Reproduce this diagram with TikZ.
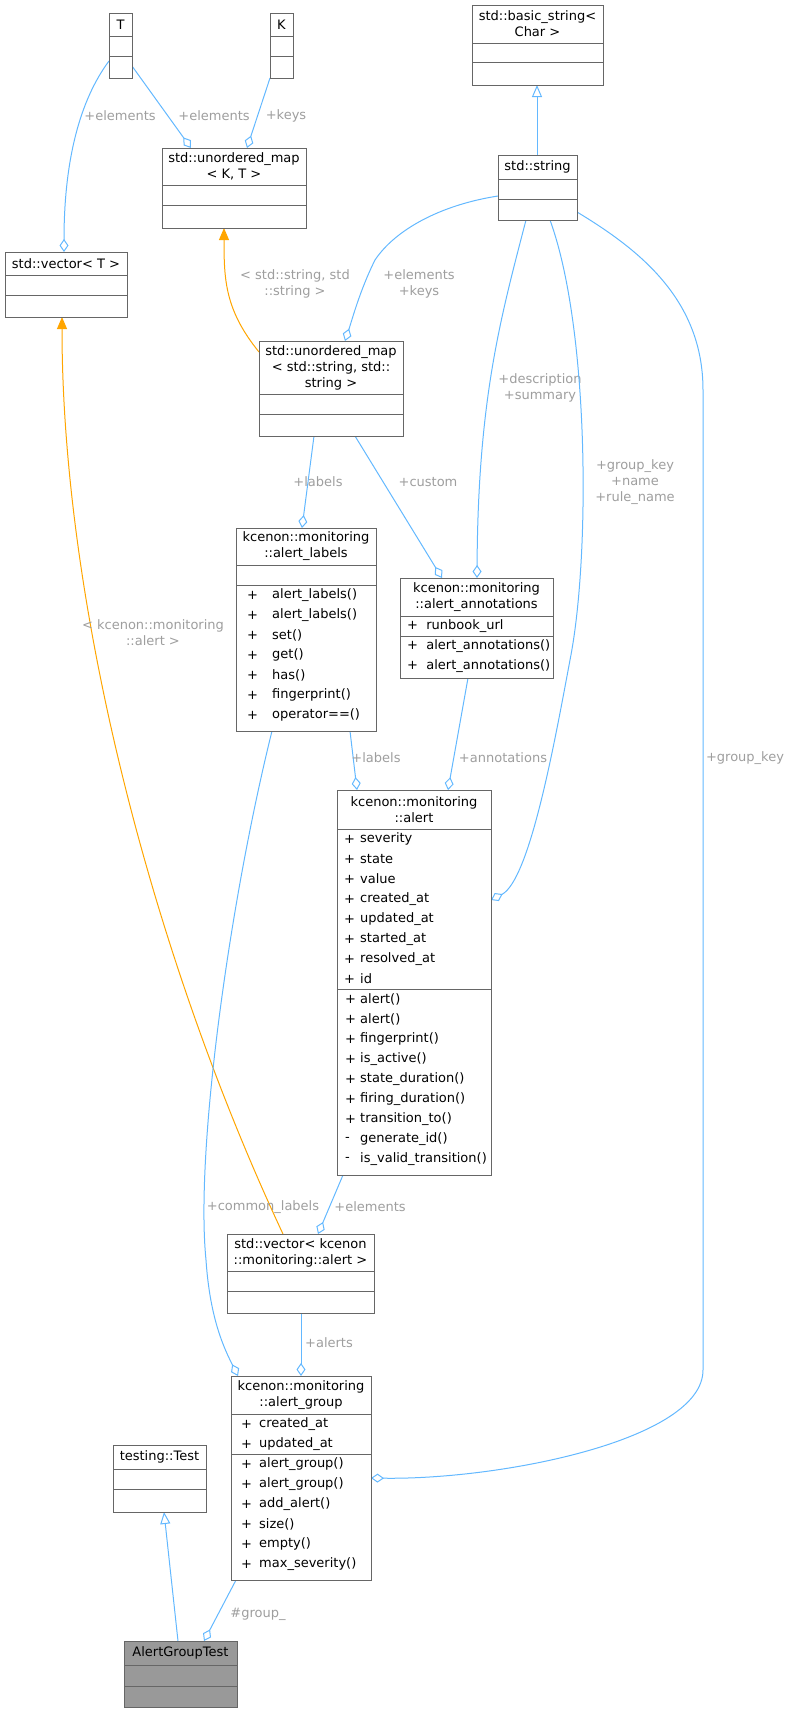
\documentclass[tikz,border=0pt]{standalone}
\usepackage{fontspec}
\setmainfont{DejaVu Sans}
\usetikzlibrary{arrows.meta}
\definecolor{edge}{HTML}{63B8FF}
\definecolor{inst}{HTML}{FFA500}
\definecolor{bord}{HTML}{666666}
\definecolor{lbl}{HTML}{9E9E9E}
\newcommand\cls[6]{%
  \node[cbox,fill=#6,minimum width={(#4-#2)*1pt},minimum height={(#5-#3)*1pt}] (#1) at ({(#2+#4)/2},{(#3+#5)/2}) {};}
\newcommand\dv[3]{\draw[bord,line width=1pt] (#1,#3) -- (#2,#3);}
\newcommand\mem[3]{\node[mtxt] at (#1,#2) {#3};}
\begin{document}
\begin{tikzpicture}[x=1pt,y=-1pt,
  cbox/.style={draw=bord,line width=1pt,inner sep=0pt,outer sep=0pt},
  htxt/.style={align=center,font=\fontsize{13}{16}\selectfont,inner sep=0pt},
  mtxt/.style={anchor=west,font=\fontsize{13}{16}\selectfont,inner sep=0pt},
  ltxt/.style={align=center,text=lbl,font=\fontsize{13}{16}\selectfont,inner sep=0pt},
  agg/.style={edge,line width=1pt,-{Diamond[open,length=13pt,width=9pt]}},
  inh/.style={edge,line width=1pt,-{Triangle[open,fill=white,length=12pt,width=10pt]}},
  tpl/.style={inst,line width=1pt,-{Triangle[length=12pt,width=10pt]}}]
\useasboundingbox (0,0) rectangle (791,1709);
% edges
\draw[agg] (109,61) .. controls (80,100) and (64,160) .. (64,252);
\node[ltxt] at (120,116) {+elements};
\draw[agg] (132,66) -- (191,148);
\node[ltxt] at (214,116) {+elements};
\draw[agg] (270,78) -- (247,148);
\node[ltxt] at (286,116) {+keys};
\draw[inh] (537,155) -- (537,85);
\draw[tpl] (259,352) .. controls (225,310) and (224,280) .. (224,228);
\node[ltxt] at (295,284) {< std::string, std\\::string >};
\draw[agg] (498,196) .. controls (440,205) and (395,230) .. (375,260) .. controls (360,290) and (352,320) .. (345,341);
\node[ltxt] at (419,284) {+elements\\+keys};
\draw[agg] (526,220) .. controls (500,320) and (478,400) .. (477,578);
\node[ltxt] at (540,388) {+description\\+summary};
\draw[agg] (550,220) .. controls (590,330) and (590,560) .. (570,660) .. controls (555,740) and (530,880) .. (491,900);
\node[ltxt] at (635,482) {+group\_key\\+name\\+rule\_name};
\draw[agg] (577,212) .. controls (640,250) and (703,300) .. (703,390) -- (703,1370) .. controls (703,1440) and (500,1480) .. (371,1478);
\node[ltxt] at (745,758) {+group\_key};
\draw[agg] (314,436) -- (302,528);
\node[ltxt] at (318,482) {+labels};
\draw[agg] (355,436) -- (442,578);
\node[ltxt] at (428,482) {+custom};
\draw[agg] (468,678) -- (448,790);
\node[ltxt] at (503,758) {+annotations};
\draw[agg] (350,731) -- (357,790);
\node[ltxt] at (376,758) {+labels};
\draw[tpl] (283,1234) .. controls (150,950) and (62,600) .. (62,317);
\node[ltxt] at (153,633) {< kcenon::monitoring\\::alert >};
\draw[agg] (343,1175) -- (318,1234);
\node[ltxt] at (370,1207) {+elements};
\draw[agg] (272,731) .. controls (230,900) and (195,1150) .. (206,1260) .. controls (210,1320) and (225,1350) .. (238,1376);
\node[ltxt] at (263,1207) {+common\_labels};
\draw[agg] (301,1313) -- (301,1376);
\node[ltxt] at (329,1343) {+alerts};
\draw[agg] (236,1580) -- (204,1641);
\node[ltxt] at (258,1614) {\#group\_};
\draw[inh] (178,1641) -- (164,1512);
% classes
\cls{T}{109}{13}{132}{78}{white}\dv{109}{132}{36}\dv{109}{132}{56}
\node[htxt] at (120.5,24.5) {T};
\cls{K}{270}{13}{293}{78}{white}\dv{270}{293}{36}\dv{270}{293}{56}
\node[htxt] at (281.5,24.5) {K};
\cls{bs}{472}{5}{603}{85}{white}\dv{472}{603}{43}\dv{472}{603}{62}
\node[htxt] at (537.5,24) {std::basic\_string<\\Char >};
\cls{umkt}{162}{148}{306}{228}{white}\dv{162}{306}{185}\dv{162}{306}{205}
\node[htxt] at (234,166.5) {std::unordered\_map\\< K, T >};
\cls{str}{498}{155}{577}{220}{white}\dv{498}{577}{179}\dv{498}{577}{199}
\node[htxt] at (537.5,167) {std::string};
\cls{vect}{5}{252}{127}{317}{white}\dv{5}{127}{275}\dv{5}{127}{295}
\node[htxt] at (66,263.5) {std::vector< T >};
\cls{umss}{259}{341}{403}{436}{white}\dv{259}{403}{394}\dv{259}{403}{414}
\node[htxt] at (331,367.5) {std::unordered\_map\\< std::string, std::\\string >};
\cls{labels}{236}{528}{376}{731}{white}\dv{236}{376}{565}\dv{236}{376}{585}
\node[htxt] at (306,546.5) {kcenon::monitoring\\::alert\_labels};
\foreach \n [count=\i from 0] in {alert\_labels(),alert\_labels(),set(),get(),has(),fingerprint(),operator==()}
  {\node[mtxt] at (247,595+20*\i) {+}; \node[mtxt] at (272,595+20*\i) {\n};}
\cls{ann}{400}{578}{553}{678}{white}\dv{400}{553}{616}\dv{400}{553}{636}
\node[htxt] at (476.5,597) {kcenon::monitoring\\::alert\_annotations};
\mem{407}{626}{+\ \ runbook\_url}
\mem{407}{646}{+\ \ alert\_annotations()}
\mem{407}{666}{+\ \ alert\_annotations()}
\cls{alert}{337}{790}{491}{1175}{white}\dv{337}{491}{829}\dv{337}{491}{989}
\node[htxt] at (414,809.5) {kcenon::monitoring\\::alert};
\foreach \n [count=\i from 0] in {severity,state,value,created\_at,updated\_at,started\_at,resolved\_at,id}
  {\node[mtxt] at (344,839+20*\i) {+}; \node[mtxt] at (360,839+20*\i) {\n};}
\foreach \s/\n [count=\i from 0] in {+/alert(),+/alert(),+/fingerprint(),+/is\_active(),+/state\_duration(),+/firing\_duration(),+/transition\_to(),-/generate\_id(),-/is\_valid\_transition()}
  {\node[mtxt] at (345,999+20*\i) {\s}; \node[mtxt] at (360,999+20*\i) {\n};}
\cls{veca}{227}{1234}{374}{1313}{white}\dv{227}{374}{1271}\dv{227}{374}{1291}
\node[htxt] at (300.5,1252.5) {std::vector< kcenon\\::monitoring::alert >};
\cls{ag}{231}{1376}{371}{1580}{white}\dv{231}{371}{1414}\dv{231}{371}{1454}
\node[htxt] at (301,1395) {kcenon::monitoring\\::alert\_group};
\foreach \n [count=\i from 0] in {created\_at,updated\_at,alert\_group(),alert\_group(),add\_alert(),size(),empty(),max\_severity()}
  {\node[mtxt] at (241,1424+20*\i) {+}; \node[mtxt] at (259,1424+20*\i) {\n};}
\cls{tt}{113}{1445}{206}{1512}{white}\dv{113}{206}{1469}\dv{113}{206}{1489}
\node[htxt] at (159.5,1457) {testing::Test};
\cls{agt}{124}{1641}{237}{1707}{gray!80}\dv{124}{237}{1665}\dv{124}{237}{1686}
\node[htxt] at (180.5,1653) {AlertGroupTest};
\end{tikzpicture}
\end{document}
